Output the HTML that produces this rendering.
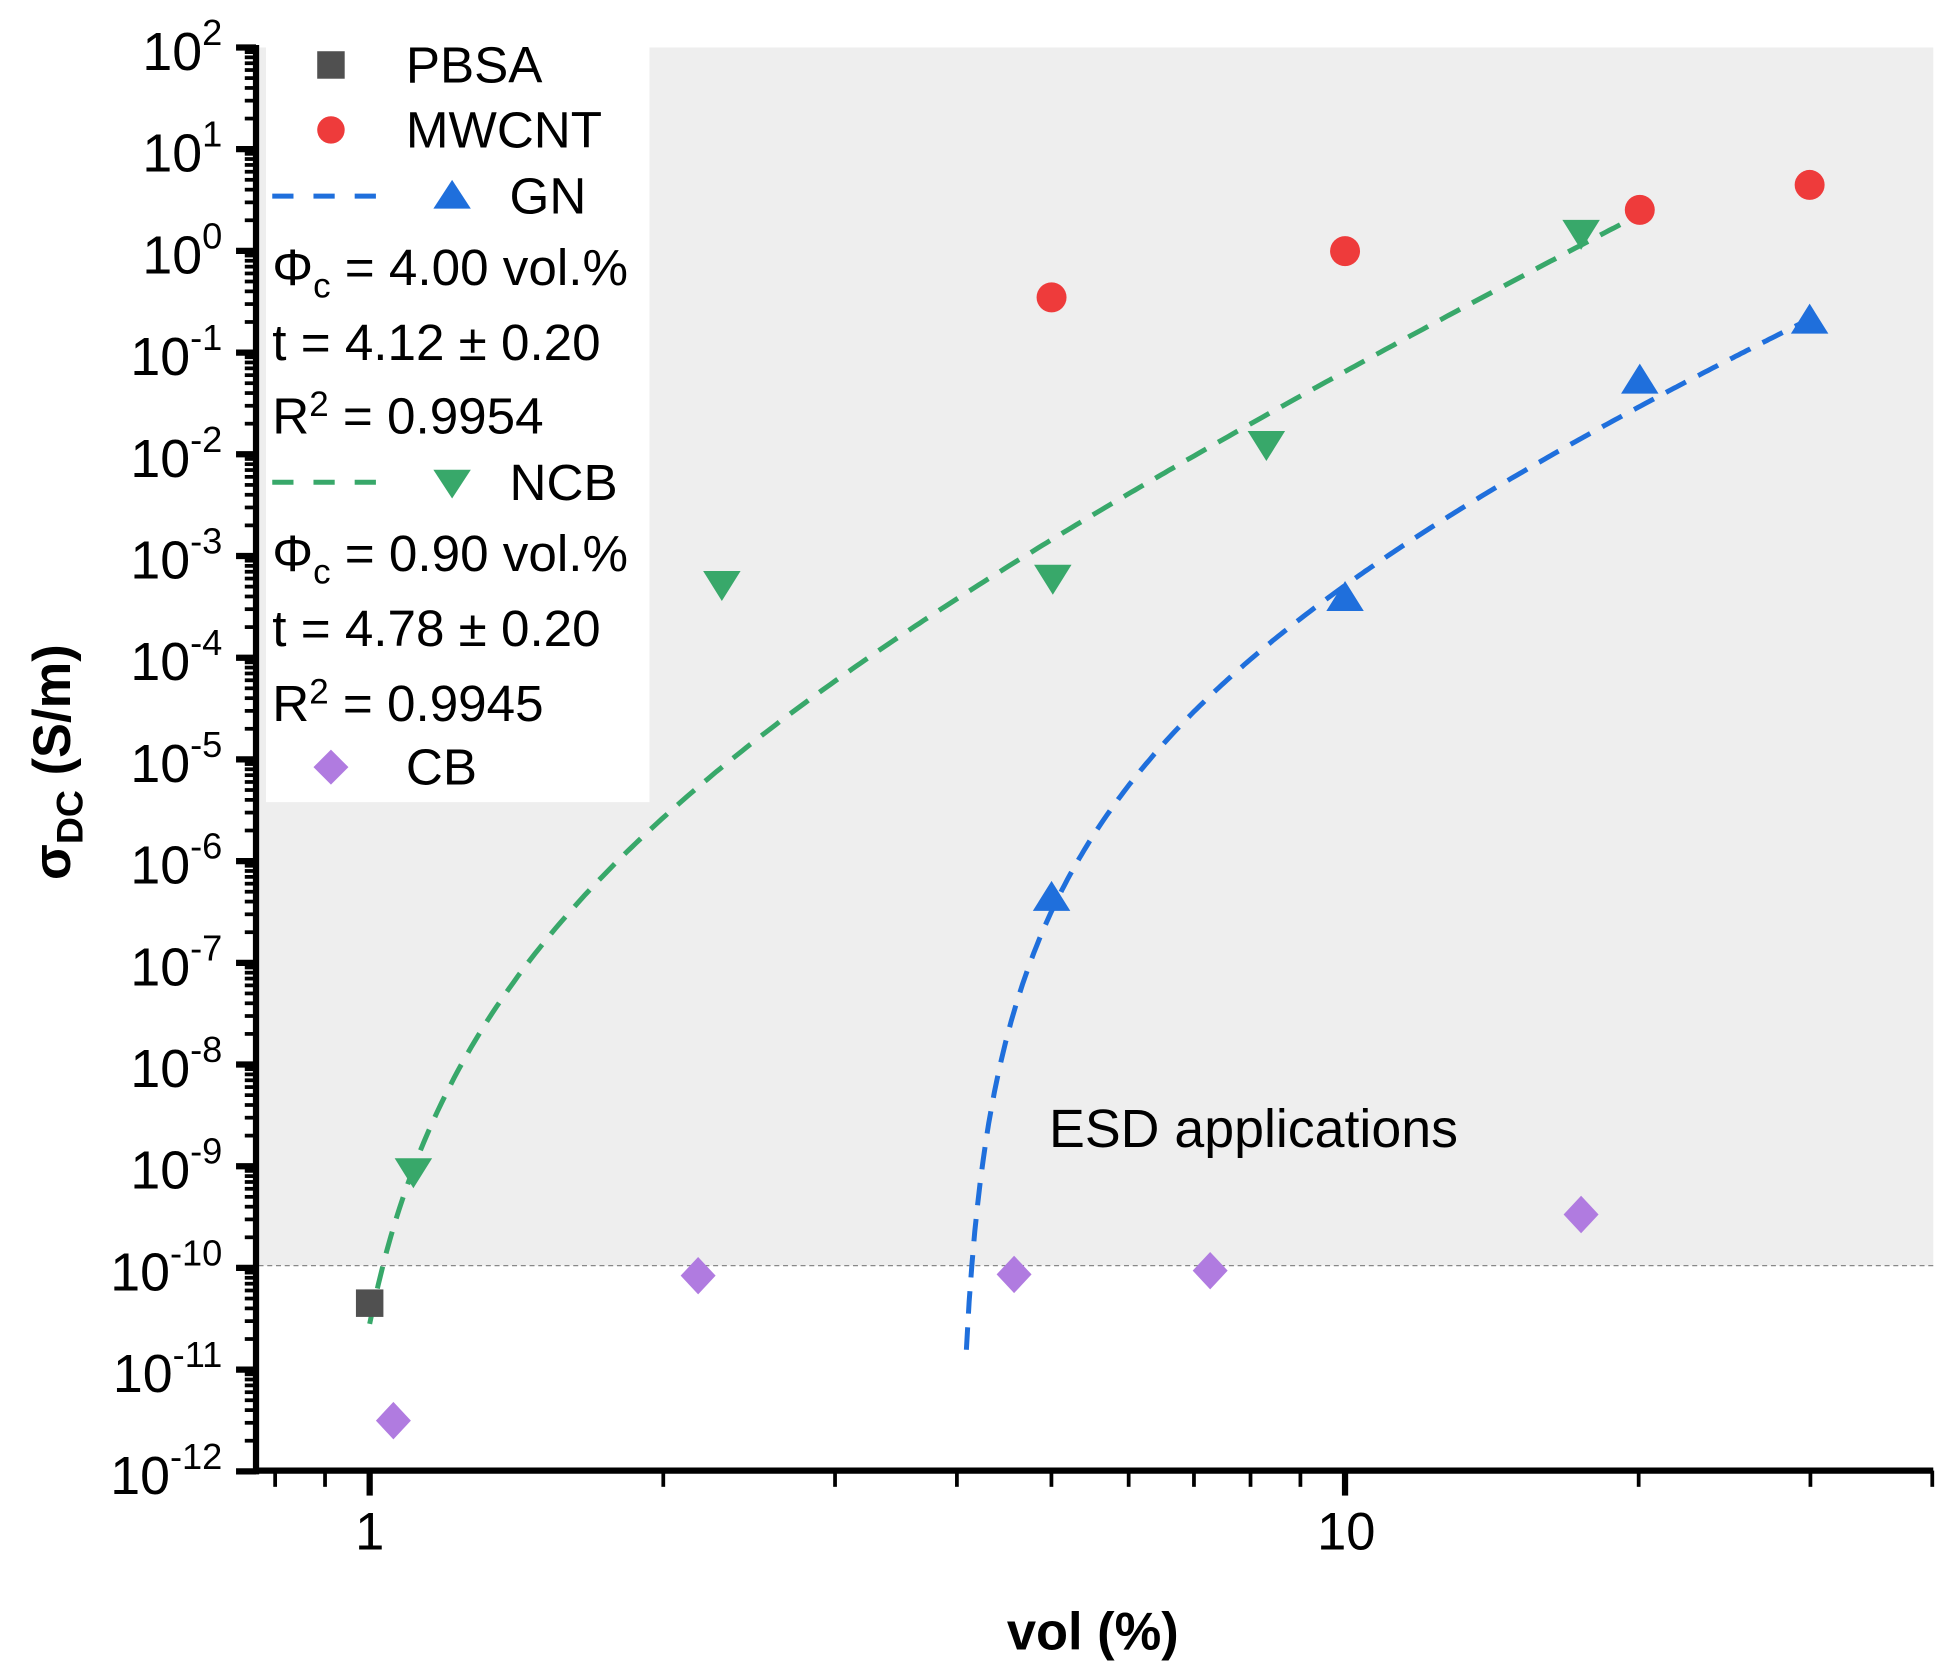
<!DOCTYPE html>
<html><head><meta charset="utf-8"><style>
html,body{margin:0;padding:0;background:#fff;}
svg{display:block;font-family:"Liberation Sans",Arial,sans-serif;}
</style></head><body>
<svg id="s" xmlns="http://www.w3.org/2000/svg" width="1957" height="1678" viewBox="0 0 1567 1343" preserveAspectRatio="none">
<rect x="0" y="0" width="1567" height="1343" fill="#fff"/>
<rect x="207" y="38" width="1341" height="975" fill="#eeeeee"/>
<rect x="213" y="38" width="307" height="604" fill="#fff"/>
<line x1="207" y1="1013" x2="1548" y2="1013" stroke="#888" stroke-width="1" stroke-dasharray="4,3"/>
<path id="gcurve" fill="none" stroke="#38a86a" stroke-width="4" stroke-dasharray="18,11"/>
<path id="bcurve" fill="none" stroke="#1f6fdc" stroke-width="4" stroke-dasharray="18,11"/>
<g id="marks"></g>
<g id="ticks" stroke="#000"></g>
<line x1="205" y1="36" x2="205" y2="1180" stroke="#000" stroke-width="5"/>
<line x1="203" y1="1177" x2="1548" y2="1177" stroke="#000" stroke-width="5"/>
<g id="ylab" font-size="43" text-anchor="end"></g>
<text x="296" y="1240" font-size="42" text-anchor="middle">1</text>
<text x="1078" y="1240" font-size="42" text-anchor="middle">10</text>
<text x="875" y="1320" font-size="42" font-weight="bold" text-anchor="middle">vol (%)</text>
<text transform="translate(56,610) rotate(-90)" font-size="42" font-weight="bold" text-anchor="middle">σ<tspan font-size="30" dy="10">DC</tspan><tspan dy="-10"> (S/m)</tspan></text>
<text x="840" y="918" font-size="43">ESD applications</text>
<g font-size="41">
<rect x="254" y="41" width="22" height="22" fill="#505050"/>
<text x="325" y="66">PBSA</text>
<circle cx="265" cy="104" r="11" fill="#ee3b3b"/>
<text x="325" y="118">MWCNT</text>
<line x1="218" y1="157" x2="312" y2="157" stroke="#1f6fdc" stroke-width="4" stroke-dasharray="17,16"/>
<polygon points="347,167 362,144 377,167" fill="#1f6fdc"/>
<text x="408" y="171">GN</text>
<text x="218" y="228">Φ<tspan font-size="28" dy="10">c</tspan><tspan dy="-10"> = 4.00 vol.%</tspan></text>
<text x="218" y="288">t = 4.12 ± 0.20</text>
<text x="218" y="347">R<tspan font-size="28" dy="-14">2</tspan><tspan dy="14"> = 0.9954</tspan></text>
<line x1="218" y1="386" x2="312" y2="386" stroke="#38a86a" stroke-width="4" stroke-dasharray="17,16"/>
<polygon points="347,376 362,399 377,376" fill="#38a86a"/>
<text x="408" y="400">NCB</text>
<text x="218" y="457">Φ<tspan font-size="28" dy="10">c</tspan><tspan dy="-10"> = 0.90 vol.%</tspan></text>
<text x="218" y="517">t = 4.78 ± 0.20</text>
<text x="218" y="577">R<tspan font-size="28" dy="-14">2</tspan><tspan dy="14"> = 0.9945</tspan></text>
<polygon points="265,600 279,614 265,628 251,614" fill="#b07be0"/>
<text x="325" y="628">CB</text>
</g>
</svg>
<script>
(function(){
var NS="http://www.w3.org/2000/svg";
function X(v){return 296+781*Math.log10(v);}
function Y(l){return 38+(2-l)*81.4;}
function el(t,a,p){var e=document.createElementNS(NS,t);for(var k in a)e.setAttribute(k,a[k]);p.appendChild(e);return e;}
function curve(pc,t,ls0,a,b){var d="";for(var i=0;i<=300;i++){var v=a*Math.pow(b/a,i/300);var l=ls0+t*Math.log10(v-pc);d+=(i?"L":"M")+X(v).toFixed(1)+","+Y(l).toFixed(1);}return d;}
document.getElementById("gcurve").setAttribute("d",curve(0.9,4.78,-5.77,1.0,20));
document.getElementById("bcurve").setAttribute("d",curve(4.0,4.12,-6.496,4.09,29.9));
var m=document.getElementById("marks");
el("rect",{x:285,y:1032,width:22,height:22,fill:"#505050"},m);
[[842,238],[1077,201],[1313,168],[1449,148]].forEach(function(p){el("circle",{cx:p[0],cy:p[1],r:12,fill:"#ee3b3b"},m);});
[[842,718],[1077,478],[1313,304],[1449,256]].forEach(function(p){el("polygon",{points:(p[0]-15)+","+(p[1]+11)+" "+p[0]+","+(p[1]-13)+" "+(p[0]+15)+","+(p[1]+11),fill:"#1f6fdc"},m);});
[[331,938],[578,468],[843,463],[1014,356],[1266,187]].forEach(function(p){el("polygon",{points:(p[0]-15)+","+(p[1]-11)+" "+p[0]+","+(p[1]+13)+" "+(p[0]+15)+","+(p[1]-11),fill:"#38a86a"},m);});
[[315,1137],[559,1021],[812,1020],[969,1017],[1266,972]].forEach(function(p){el("polygon",{points:p[0]+","+(p[1]-15)+" "+(p[0]+14)+","+p[1]+" "+p[0]+","+(p[1]+15)+" "+(p[0]-14)+","+p[1],fill:"#b07be0"},m);});
var tk=document.getElementById("ticks"),yl=document.getElementById("ylab");
for(var e=-12;e<=2;e++){var y=Y(e);el("line",{x1:189,y1:y,x2:205,y2:y,"stroke-width":5},tk);
var t=el("text",{x:178,y:y+18},yl);
var a=document.createElementNS(NS,"tspan");a.textContent="10";t.appendChild(a);
var s=el("tspan",{"font-size":"29",dy:"-20"},t);s.textContent=(e<0?"-":"")+Math.abs(e);
if(e<2)for(var k=2;k<10;k++){var yy=Y(e+Math.log10(k));el("line",{x1:196,y1:yy,x2:205,y2:yy,"stroke-width":3},tk);}}
[0.8,0.9,2,3,4,5,6,7,8,9,20,30,40].forEach(function(v){var x=X(v);if(x<=1549)el("line",{x1:x,y1:1177,x2:x,y2:1190,"stroke-width":3},tk);});
[1,10].forEach(function(v){var x=X(v);el("line",{x1:x,y1:1177,x2:x,y2:1197,"stroke-width":5},tk);});
})();
</script>
</body></html>
